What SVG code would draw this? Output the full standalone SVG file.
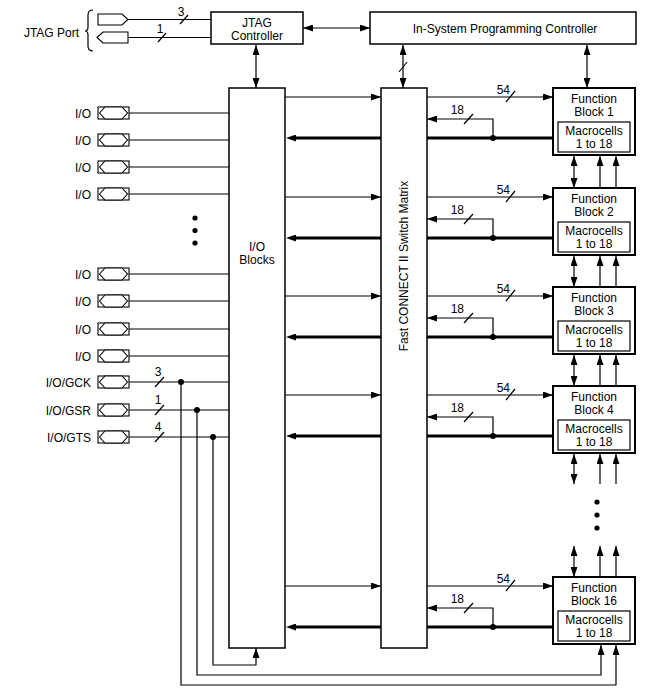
<svg xmlns="http://www.w3.org/2000/svg" width="656" height="694" viewBox="0 0 656 694">
<style>
.t{font-family:"Liberation Sans",Arial,Helvetica,sans-serif;font-size:12px;fill:#000}
.m{text-anchor:middle}
.e{text-anchor:end}
.box{fill:#fff;stroke:#000;stroke-width:1.5}
.fb{fill:#fff;stroke:#000;stroke-width:2}
.in{fill:#fff;stroke:#000;stroke-width:1.2}
.w{fill:none;stroke:#000;stroke-width:1.2}
.b{fill:none;stroke:#000;stroke-width:2.8}
.pad{fill:#fff;stroke:#000;stroke-width:1.1}
.a{marker-end:url(#ah)}
.d{marker-start:url(#ah);marker-end:url(#ah)}
.ab{marker-end:url(#ahb)}
</style>
<defs>
<marker id="ah" viewBox="0 0 10 7" refX="10" refY="3.5" markerWidth="10" markerHeight="7" markerUnits="userSpaceOnUse" orient="auto-start-reverse"><path d="M0,0 L10,3.5 L0,7 z" fill="#000"/></marker>
<marker id="ahb" viewBox="0 0 10 7" refX="3" refY="3.5" markerWidth="10" markerHeight="7" markerUnits="userSpaceOnUse" orient="auto"><path d="M0,0 L10,3.5 L0,7 z" fill="#000"/></marker>
<g id="padshape">
<rect x="98" y="-6" width="31" height="12" class="pad"/>
<polygon points="99.5,0 105,-6 122,-6 127.5,0 122,6 105,6" class="pad"/>
</g>
</defs>
<rect width="656" height="694" fill="#fff"/>

<g id="connectors">
<!-- JTAG port lines -->
<line x1="128" y1="19.5" x2="211" y2="19.5" class="w"/>
<line x1="180" y1="24" x2="188" y2="15" class="w"/>
<text x="181" y="16" class="t m">3</text>
<line x1="128" y1="37.5" x2="211" y2="37.5" class="w"/>
<line x1="158" y1="42" x2="166" y2="33" class="w"/>
<text x="160" y="33" class="t m">1</text>
<!-- controllers -->
<line x1="303" y1="28" x2="370" y2="28" class="w d"/>
<line x1="256" y1="45" x2="256" y2="88" class="w d"/>
<line x1="403" y1="45" x2="403" y2="88" class="w d"/>
<line x1="399" y1="72" x2="407" y2="62" class="w"/>
<line x1="587" y1="45" x2="587" y2="88" class="w d"/>
<!-- I/O pad lines -->
<g class="w">
<line x1="129" y1="113" x2="229" y2="113"/>
<line x1="129" y1="140" x2="229" y2="140"/>
<line x1="129" y1="167" x2="229" y2="167"/>
<line x1="129" y1="194" x2="229" y2="194"/>
<line x1="129" y1="274" x2="229" y2="274"/>
<line x1="129" y1="301" x2="229" y2="301"/>
<line x1="129" y1="329" x2="229" y2="329"/>
<line x1="129" y1="356" x2="229" y2="356"/>
<line x1="129" y1="382" x2="229" y2="382"/>
<line x1="129" y1="410" x2="229" y2="410"/>
<line x1="129" y1="437" x2="229" y2="437"/>
<line x1="155" y1="387" x2="164" y2="377"/>
<line x1="155" y1="415" x2="164" y2="405"/>
<line x1="155" y1="442" x2="164" y2="432"/>
</g>
<text x="158" y="376" class="t m">3</text>
<text x="158" y="404" class="t m">1</text>
<text x="158" y="431" class="t m">4</text>
<circle cx="181" cy="382" r="3"/>
<circle cx="197" cy="410" r="3"/>
<circle cx="213" cy="437" r="3"/>
<polyline points="181,382 181,685 616,685 616,645" class="w a"/>
<polyline points="197,410 197,675 601,675 601,645" class="w a"/>
<polyline points="213,437 213,665 256,665 256,648" class="w a"/>

<!-- block 1 (B=88) -->
<g id="conn-fb1">
<line x1="285" y1="97" x2="381" y2="97" class="w a"/>
<line x1="381" y1="138" x2="293" y2="138" class="b ab"/>
<line x1="427" y1="97" x2="553" y2="97" class="w a"/>
<line x1="506" y1="102" x2="515" y2="91" class="w"/>
<text x="510" y="94" class="t e">54</text>
<line x1="427" y1="138" x2="553" y2="138" class="b"/>
<circle cx="493" cy="138" r="3"/>
<polyline points="493,138 493,119 427,119" class="w a"/>
<line x1="464" y1="124" x2="473" y2="114" class="w"/>
<text x="464" y="114" class="t e">18</text>
</g>
<!-- block 2 (B=188) -->
<g id="conn-fb2">
<line x1="285" y1="197" x2="381" y2="197" class="w a"/>
<line x1="381" y1="238" x2="293" y2="238" class="b ab"/>
<line x1="427" y1="197" x2="553" y2="197" class="w a"/>
<line x1="506" y1="202" x2="515" y2="191" class="w"/>
<text x="510" y="194" class="t e">54</text>
<line x1="427" y1="238" x2="553" y2="238" class="b"/>
<circle cx="493" cy="238" r="3"/>
<polyline points="493,238 493,219 427,219" class="w a"/>
<line x1="464" y1="224" x2="473" y2="214" class="w"/>
<text x="464" y="214" class="t e">18</text>
</g>
<!-- block 3 (B=287) -->
<g id="conn-fb3">
<line x1="285" y1="296" x2="381" y2="296" class="w a"/>
<line x1="381" y1="337" x2="293" y2="337" class="b ab"/>
<line x1="427" y1="296" x2="553" y2="296" class="w a"/>
<line x1="506" y1="301" x2="515" y2="290" class="w"/>
<text x="510" y="293" class="t e">54</text>
<line x1="427" y1="337" x2="553" y2="337" class="b"/>
<circle cx="493" cy="337" r="3"/>
<polyline points="493,337 493,318 427,318" class="w a"/>
<line x1="464" y1="323" x2="473" y2="313" class="w"/>
<text x="464" y="313" class="t e">18</text>
</g>
<!-- block 4 (B=386) -->
<g id="conn-fb4">
<line x1="285" y1="395" x2="381" y2="395" class="w a"/>
<line x1="381" y1="436" x2="293" y2="436" class="b ab"/>
<line x1="427" y1="395" x2="553" y2="395" class="w a"/>
<line x1="506" y1="400" x2="515" y2="389" class="w"/>
<text x="510" y="392" class="t e">54</text>
<line x1="427" y1="436" x2="553" y2="436" class="b"/>
<circle cx="493" cy="436" r="3"/>
<polyline points="493,436 493,417 427,417" class="w a"/>
<line x1="464" y1="422" x2="473" y2="412" class="w"/>
<text x="464" y="412" class="t e">18</text>
</g>
<!-- block 16 (B=577) -->
<g id="conn-fb16">
<line x1="285" y1="586" x2="381" y2="586" class="w a"/>
<line x1="381" y1="627" x2="293" y2="627" class="b ab"/>
<line x1="427" y1="586" x2="553" y2="586" class="w a"/>
<line x1="506" y1="591" x2="515" y2="580" class="w"/>
<text x="510" y="583" class="t e">54</text>
<line x1="427" y1="627" x2="553" y2="627" class="b"/>
<circle cx="493" cy="627" r="3"/>
<polyline points="493,627 493,608 427,608" class="w a"/>
<line x1="464" y1="613" x2="473" y2="603" class="w"/>
<text x="464" y="603" class="t e">18</text>
</g>
<!-- between function blocks -->
<g class="w">
<line x1="574" y1="156" x2="574" y2="188" class="d"/>
<line x1="600" y1="188" x2="600" y2="156" class="a"/>
<line x1="616" y1="188" x2="616" y2="156" class="a"/>
<line x1="574" y1="256" x2="574" y2="287" class="d"/>
<line x1="600" y1="287" x2="600" y2="256" class="a"/>
<line x1="616" y1="287" x2="616" y2="256" class="a"/>
<line x1="574" y1="355" x2="574" y2="386" class="d"/>
<line x1="600" y1="386" x2="600" y2="355" class="a"/>
<line x1="616" y1="386" x2="616" y2="355" class="a"/>
<line x1="574" y1="454" x2="574" y2="484" class="d"/>
<line x1="600" y1="484" x2="600" y2="454" class="a"/>
<line x1="616" y1="484" x2="616" y2="454" class="a"/>
<line x1="574" y1="546" x2="574" y2="577" class="d"/>
<line x1="600" y1="577" x2="600" y2="546" class="a"/>
<line x1="616" y1="577" x2="616" y2="546" class="a"/>
</g>
</g>

<g id="jtag-port">
<text x="79" y="37" class="t e">JTAG Port</text>
<path d="M93,10 Q88,10 88,15 L88,27 Q88,31 85,31 Q88,31 88,35 L88,46 Q88,51 93,51" class="w"/>
<polygon points="98,14 122,14 128,19.5 122,25 98,25" class="pad"/>
<polygon points="97,37.5 103,32 128,32 128,43 103,43" class="pad"/>
</g>

<g id="jtag-controller">
<rect x="211" y="12" width="92" height="32" class="box"/>
<text x="257" y="27" class="t m">JTAG</text>
<text x="257" y="40" class="t m">Controller</text>
</g>

<g id="isp-controller">
<rect x="370" y="12" width="266" height="32" class="box"/>
<text x="505" y="33" class="t m">In-System Programming Controller</text>
</g>

<g id="io-pads">
<use href="#padshape" y="113"/><text x="91" y="117.5" class="t e">I/O</text>
<use href="#padshape" y="140"/><text x="91" y="144.5" class="t e">I/O</text>
<use href="#padshape" y="167"/><text x="91" y="171.5" class="t e">I/O</text>
<use href="#padshape" y="194"/><text x="91" y="198.5" class="t e">I/O</text>
<use href="#padshape" y="274"/><text x="91" y="278.5" class="t e">I/O</text>
<use href="#padshape" y="301"/><text x="91" y="305.5" class="t e">I/O</text>
<use href="#padshape" y="329"/><text x="91" y="333.5" class="t e">I/O</text>
<use href="#padshape" y="356"/><text x="91" y="360.5" class="t e">I/O</text>
<use href="#padshape" y="382"/><text x="91" y="386.5" class="t e">I/O/GCK</text>
<use href="#padshape" y="410"/><text x="91" y="414.5" class="t e">I/O/GSR</text>
<use href="#padshape" y="437"/><text x="91" y="441.5" class="t e">I/O/GTS</text>
<circle cx="195" cy="218" r="2.6"/>
<circle cx="195" cy="230.5" r="2.6"/>
<circle cx="195" cy="243" r="2.6"/>
</g>

<g id="io-blocks">
<rect x="229" y="88" width="56" height="560" class="box"/>
<text x="257" y="251" class="t m">I/O</text>
<text x="257" y="264" class="t m">Blocks</text>
</g>

<g id="switch-matrix">
<rect x="381" y="88" width="46" height="560" class="box"/>
<text transform="translate(408,266) rotate(-90)" class="t m">Fast CONNECT II Switch Matrix</text>
</g>

<g id="fb1">
<rect x="553" y="88" width="82" height="67" class="fb"/>
<text x="594" y="103" class="t m">Function</text>
<text x="594" y="116" class="t m">Block 1</text>
<rect x="558" y="122" width="72" height="30" class="in"/>
<text x="594" y="135" class="t m">Macrocells</text>
<text x="594" y="148" class="t m">1 to 18</text>
</g>
<g id="fb2">
<rect x="553" y="188" width="82" height="67" class="fb"/>
<text x="594" y="203" class="t m">Function</text>
<text x="594" y="216" class="t m">Block 2</text>
<rect x="558" y="222" width="72" height="30" class="in"/>
<text x="594" y="235" class="t m">Macrocells</text>
<text x="594" y="248" class="t m">1 to 18</text>
</g>
<g id="fb3">
<rect x="553" y="287" width="82" height="67" class="fb"/>
<text x="594" y="302" class="t m">Function</text>
<text x="594" y="315" class="t m">Block 3</text>
<rect x="558" y="321" width="72" height="30" class="in"/>
<text x="594" y="334" class="t m">Macrocells</text>
<text x="594" y="347" class="t m">1 to 18</text>
</g>
<g id="fb4">
<rect x="553" y="386" width="82" height="67" class="fb"/>
<text x="594" y="401" class="t m">Function</text>
<text x="594" y="414" class="t m">Block 4</text>
<rect x="558" y="420" width="72" height="30" class="in"/>
<text x="594" y="433" class="t m">Macrocells</text>
<text x="594" y="446" class="t m">1 to 18</text>
</g>
<g id="fb-dots">
<circle cx="597" cy="502" r="2.6"/>
<circle cx="597" cy="515" r="2.6"/>
<circle cx="597" cy="528" r="2.6"/>
</g>
<g id="fb16">
<rect x="553" y="577" width="82" height="67" class="fb"/>
<text x="594" y="592" class="t m">Function</text>
<text x="594" y="605" class="t m">Block 16</text>
<rect x="558" y="611" width="72" height="30" class="in"/>
<text x="594" y="624" class="t m">Macrocells</text>
<text x="594" y="637" class="t m">1 to 18</text>
</g>
</svg>
